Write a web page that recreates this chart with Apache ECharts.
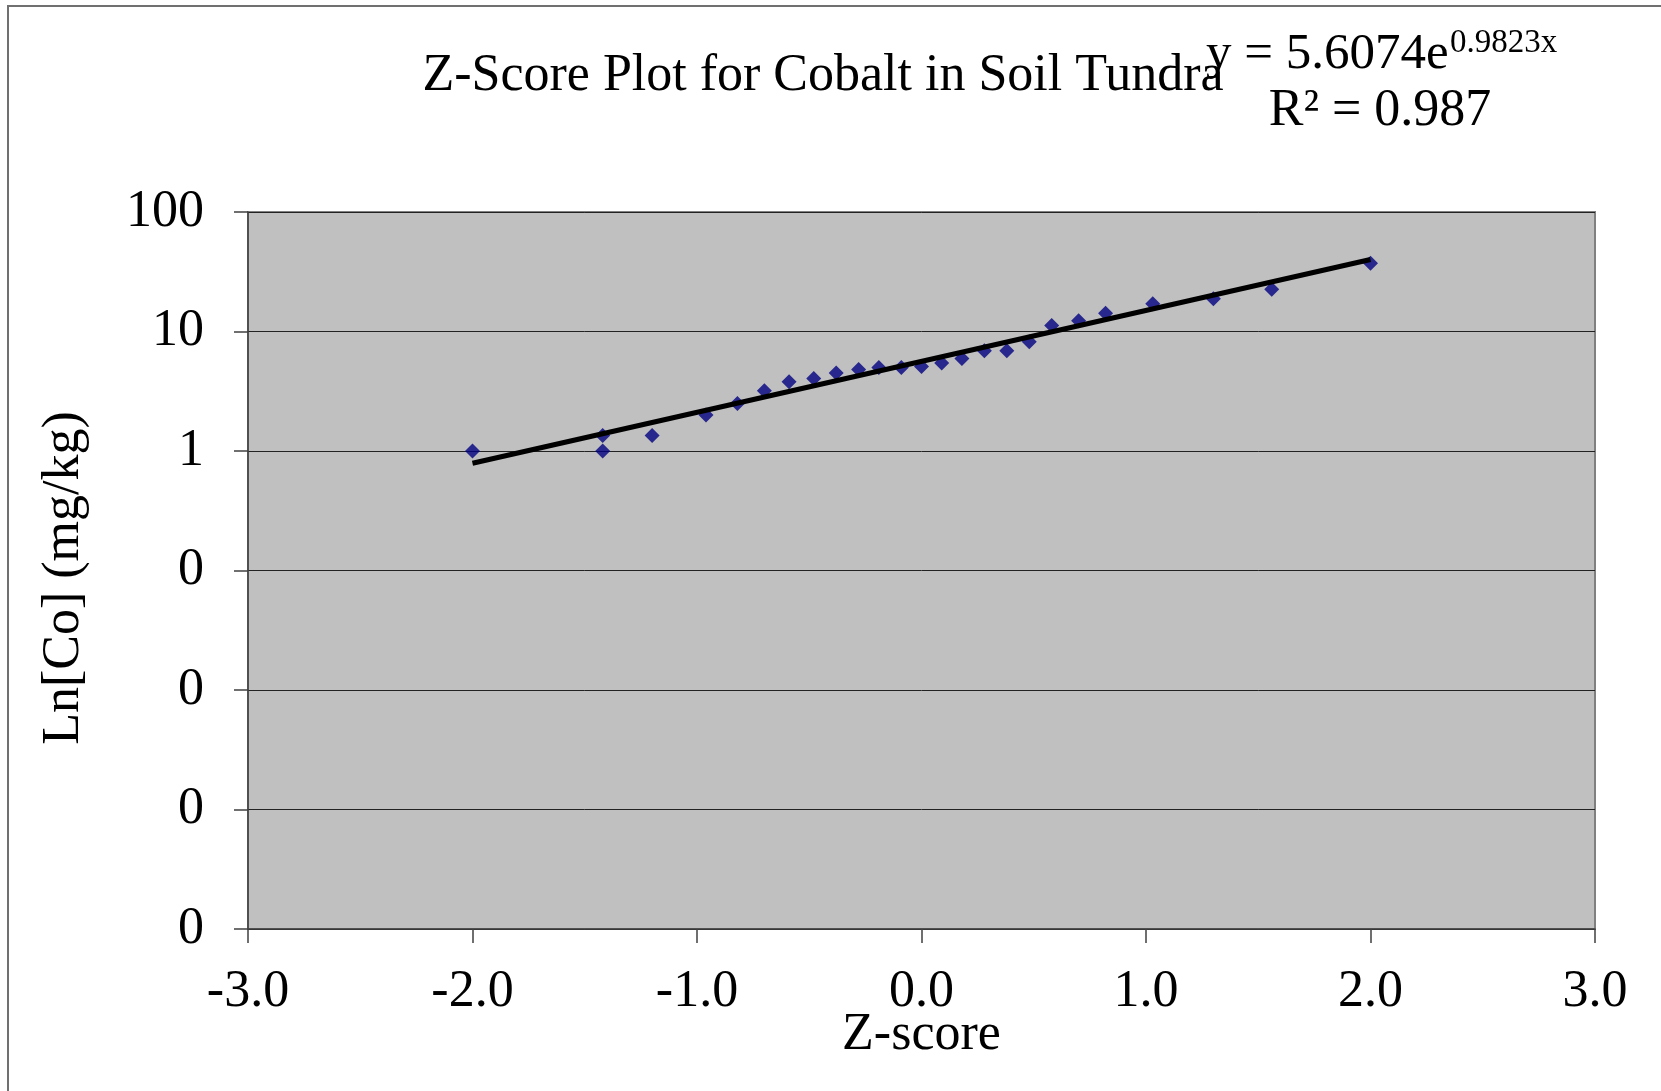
<!DOCTYPE html>
<html>
<head>
<meta charset="utf-8">
<script src="https://cdn.jsdelivr.net/npm/echarts@6/dist/echarts.min.js"></script>
<style>
html,body{margin:0;padding:0;background:#fff;}
#chart{width:1661px;height:1091px;}
</style>
</head>
<body>
<div id="chart"></div>
<script>
// ---- data ----
const zScores = [-2.00, -1.42, -1.42, -1.20, -0.96, -0.82, -0.70, -0.59, -0.48, -0.38, -0.28, -0.19, -0.09, 0.00, 0.09, 0.18, 0.28, 0.38, 0.48, 0.58, 0.70, 0.82, 1.03, 1.30, 1.56, 2.00];
const cobalt  = [1.00, 1.35, 1.00, 1.35, 2.00, 2.50, 3.20, 3.80, 4.05, 4.50, 4.80, 5.00, 5.00, 5.10, 5.45, 5.95, 6.90, 6.90, 8.20, 11.2, 12.3, 14.2, 17.1, 18.8, 22.6, 37.2];
const trendX = [-2.0, 2.0];
const trendY = [0.79, 40.0];
const xTicks = [-3, -2, -1, 0, 1, 2, 3];
const titleText = 'Z-Score Plot for Cobalt in Soil Tundra';
const eqMain = 'y = 5.6074e';
const eqExp = '0.9823x';
const r2Text = 'R² = 0.987';
const xName = 'Z-score';
const yName = 'Ln[Co] (mg/kg)';

const FONT = '"Liberation Serif", "Times New Roman", serif';
const FS = 52;

const chart = echarts.init(document.getElementById('chart'));
chart.setOption({
  animation: false,
  backgroundColor: '#ffffff',
  grid: {
    left: 248, top: 212, width: 1347, height: 717,
    show: true, backgroundColor: '#C0C0C0', borderColor: '#808080', borderWidth: 2
  },
  xAxis: {
    type: 'value', min: xTicks[0], max: xTicks[xTicks.length - 1], interval: 1,
    name: xName, nameLocation: 'middle', nameGap: 80, nameMoveOverlap: false,
    nameTextStyle: { fontFamily: FONT, fontSize: FS, color: '#000' },
    axisLine: { onZero: false, lineStyle: { color: '#404040', width: 1.5 } },
    axisTick: { show: true, inside: false, length: 14, lineStyle: { color: '#404040', width: 1.5 } },
    axisLabel: { fontFamily: FONT, fontSize: FS, color: '#000', margin: 37,
      formatter: v => v.toFixed(1) },
    splitLine: { show: false }
  },
  yAxis: {
    type: 'log', logBase: 10, min: 0.0001, max: 100,
    name: yName, nameLocation: 'middle', nameGap: 158, nameMoveOverlap: false,
    nameTextStyle: { fontFamily: FONT, fontSize: FS, color: '#000', padding: [0, 15, 0, 0] },
    axisLine: { show: true, onZero: false, lineStyle: { color: '#404040', width: 1.5 } },
    axisTick: { show: true, inside: false, length: 14, lineStyle: { color: '#404040', width: 1.5 } },
    axisLabel: { fontFamily: FONT, fontSize: FS, color: '#000', margin: 44,
      formatter: v => String(Math.round(v)) },
    splitLine: { show: true, lineStyle: { color: '#222', width: 1 } }
  },
  graphic: [
    { type: 'rect', silent: true, z: -10,
      shape: { x: 8, y: 6, width: 1800, height: 1300 },
      style: { fill: 'none', stroke: '#707070', lineWidth: 2 } },
    { type: 'text', x: 823, y: 76, z: 10,
      style: { text: titleText, font: FS + 'px ' + FONT, fill: '#000', textAlign: 'center', textVerticalAlign: 'middle' } },
    { type: 'text', x: 1206, y: 55, z: 11,
      style: { text: eqMain, font: '51px ' + FONT, fill: '#000', textAlign: 'left', textVerticalAlign: 'middle' } },
    { type: 'text', x: 1450, y: 43, z: 11,
      style: { text: eqExp, font: '33px ' + FONT, fill: '#000', textAlign: 'left', textVerticalAlign: 'middle' } },
    { type: 'text', x: 1380, y: 111, z: 11,
      style: { text: r2Text, font: FS + 'px ' + FONT, fill: '#000', textAlign: 'center', textVerticalAlign: 'middle' } }
  ],
  series: [
    {
      type: 'scatter', symbol: 'diamond', symbolSize: 15,
      itemStyle: { color: '#000080' },
      data: zScores.map((z, i) => [z, cobalt[i]]),
      z: 2
    },
    {
      type: 'line', showSymbol: false, symbol: 'none',
      lineStyle: { color: '#000', width: 5 },
      data: trendX.map((x, i) => [x, trendY[i]]),
      z: 3
    }
  ]
});
</script>
</body>
</html>
